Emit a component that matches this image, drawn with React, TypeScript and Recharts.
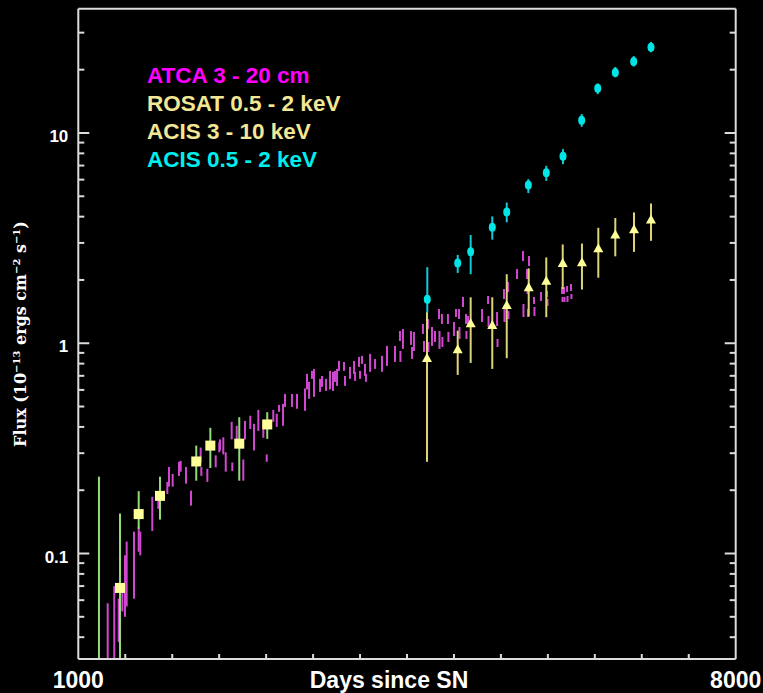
import React from 'react';
import { ComposedChart, Scatter, XAxis, YAxis, ErrorBar } from 'recharts';

// ---------- tick definitions ----------
const xTicks = [1000, 1500, 2000, 2500, 3000, 3500, 4000, 4500, 5000, 5500, 6000, 6500, 7000, 7500, 8000];
const xLabelTicks = [1000, 8000];
const yTicks = [0.04, 0.05, 0.06, 0.07, 0.08, 0.09, 0.1, 0.2, 0.3, 0.4, 0.5, 0.6, 0.7, 0.8, 0.9, 1, 2, 3, 4, 5, 6, 7, 8, 9, 10, 20, 30];
const yMajor = [0.1, 1, 10];

// ---------- ATCA 3 - 20 cm (radio, error bars only) ----------
const atcaDays = [1313, 1383, 1430, 1469, 1497, 1515, 1593, 1643, 1660, 1788, 1852, 1948, 1966, 2005, 2072, 2090, 2147, 2200, 2303, 2310, 2374, 2463, 2501, 2509, 2544, 2570, 2633, 2640, 2687, 2757, 2775, 2831, 2871, 2917, 2970, 3006, 3076, 3113, 3137, 3180, 3201, 3275, 3329, 3414, 3435, 3457, 3488, 3510, 3574, 3595, 3638, 3680, 3712, 3733, 3755, 3776, 3829, 3840, 3893, 3936, 3947, 3989, 4000, 4021, 4053, 4064, 4107, 4160, 4234, 4287, 4372, 4425, 4430, 4457, 4543, 4553, 4574, 4670, 4681, 4723, 4728, 4766, 4798, 4841, 4846, 4872, 4877, 4936, 4941, 5000, 5022, 5054, 5059, 5096, 5128, 5133, 5150, 5299, 5363, 5368, 5459, 5464, 5533, 5538, 5575, 5580, 5671, 5735, 5740, 5778, 5783, 5788, 5799, 5852, 5857, 5927, 5991, 5996, 6151, 6156, 6172, 6177, 6204, 6209, 6246, 6251];
const atcaLow = [0.0316, 0.0316, 0.038, 0.053, 0.050, 0.056, 0.061, 0.102, 0.098, 0.128, 0.163, 0.192, 0.208, 0.208, 0.234, 0.245, 0.215, 0.169, 0.271, 0.234, 0.219, 0.257, 0.303, 0.309, 0.296, 0.245, 0.349, 0.247, 0.338, 0.222, 0.349, 0.391, 0.309, 0.383, 0.355, 0.273, 0.423, 0.400, 0.472, 0.405, 0.498, 0.498, 0.488, 0.477, 0.603, 0.544, 0.677, 0.556, 0.587, 0.620, 0.593, 0.603, 0.593, 0.655, 0.627, 0.739, 0.739, 0.627, 0.677, 0.715, 0.662, 0.772, 0.677, 0.798, 0.699, 0.655, 0.731, 0.755, 0.731, 0.780, 0.815, 1.025, 0.815, 0.940, 0.982, 0.842, 0.919, 1.107, 0.909, 1.169, 0.909, 0.971, 1.014, 1.304, 0.940, 1.235, 0.960, 1.235, 1.014, 1.083, 1.333, 1.304, 1.048, 1.487, 1.235, 1.048, 1.208, 1.262, 1.537, 1.195, 1.208, 0.960, 1.623, 1.262, 1.753, 1.304, 2.021, 2.460, 1.333, 2.021, 1.715, 1.333, 2.329, 1.537, 1.348, 1.588, 1.660, 1.504, 1.715, 1.571, 1.715, 1.571, 1.753, 1.571, 1.772, 1.623];
const atcaHigh = [0.058, 0.070, 0.061, 0.070, 0.098, 0.114, 0.127, 0.134, 0.127, 0.186, 0.197, 0.219, 0.258, 0.239, 0.273, 0.276, 0.258, 0.199, 0.319, 0.258, 0.253, 0.293, 0.338, 0.349, 0.357, 0.303, 0.423, 0.271, 0.405, 0.280, 0.427, 0.452, 0.414, 0.482, 0.432, 0.296, 0.482, 0.462, 0.509, 0.515, 0.574, 0.574, 0.574, 0.609, 0.715, 0.655, 0.739, 0.755, 0.677, 0.699, 0.677, 0.739, 0.731, 0.739, 0.755, 0.824, 0.815, 0.699, 0.772, 0.824, 0.731, 0.861, 0.739, 0.871, 0.798, 0.715, 0.890, 0.842, 0.871, 0.971, 0.971, 1.144, 0.919, 1.169, 1.144, 0.960, 1.132, 1.235, 1.025, 1.304, 1.014, 1.195, 1.144, 1.455, 1.144, 1.378, 1.071, 1.378, 1.132, 1.262, 1.455, 1.455, 1.195, 1.660, 1.378, 1.144, 1.348, 1.455, 1.678, 1.348, 1.408, 1.048, 1.811, 1.487, 1.955, 1.424, 2.254, 2.745, 1.537, 2.254, 1.872, 1.455, 2.598, 1.660, 1.487, 1.753, 1.772, 1.623, 1.851, 1.660, 1.851, 1.660, 1.872, 1.678, 1.913, 1.715];

// ---------- ROSAT 0.5 - 2 keV (first point lies below the plotted range) ----------
const rosatDays = [1220, 1444, 1643, 1870, 2256, 2406, 2714, 3012];
const rosatFlux = [0.02, 0.0686, 0.154, 0.188, 0.274, 0.326, 0.333, 0.411];
const rosatLow = [0.0316, 0.0316, 0.131, 0.145, 0.222, 0.255, 0.222, 0.351];
const rosatHigh = [0.232, 0.155, 0.198, 0.232, 0.326, 0.396, 0.445, 0.470];

// ---------- ACIS 3 - 10 keV ----------
const hardDays = [4713, 5040, 5178, 5408, 5562, 5796, 5983, 6158, 6363, 6537, 6718, 6917, 7098];
const hardFlux = [0.851, 0.936, 1.245, 1.22, 1.52, 1.845, 1.98, 2.41, 2.43, 2.83, 3.29, 3.48, 3.88];
const hardLow = [0.273, 0.707, 0.806, 0.755, 0.849, 1.34, 1.33, 1.81, 1.80, 2.05, 2.59, 2.72, 3.07];
const hardHigh = [1.41, 1.148, 1.654, 1.654, 2.13, 2.27, 2.56, 2.95, 2.98, 3.54, 3.94, 4.19, 4.62];

// ---------- ACIS 0.5 - 2 keV ----------
const softDays = [4716, 5040, 5178, 5408, 5562, 5792, 5983, 6161, 6360, 6531, 6718, 6914, 7098];
const softFlux = [1.62, 2.41, 2.72, 3.56, 4.21, 5.65, 6.47, 7.76, 11.5, 16.3, 19.4, 21.9, 25.6];
const softLow = [1.40, 2.16, 2.13, 3.11, 3.76, 5.18, 5.92, 7.11, 10.7, 15.3, 18.4, 20.7, 24.2];
const softHigh = [2.30, 2.63, 3.27, 4.01, 4.67, 6.03, 6.98, 8.38, 12.3, 17.2, 20.6, 23.2, 27.1];

// ---------- build tables ----------
const build = (days: number[], flux: number[], lo: number[], hi: number[]) =>
  days.map((d, i) => ({ x: d, y: flux[i], err: [flux[i] - lo[i], hi[i] - flux[i]] }));

const atcaFlux = atcaLow.map((l, i) => Math.sqrt(l * atcaHigh[i]));
const atcaData = build(atcaDays, atcaFlux, atcaLow, atcaHigh);
const rosatData = build(rosatDays, rosatFlux, rosatLow, rosatHigh);
const hardData = build(hardDays, hardFlux, hardLow, hardHigh);
const softData = build(softDays, softFlux, softLow, softHigh);

// ---------- styling ----------
const AX = '#dcdcdc';
const SANS = '"Liberation Sans", Arial, Helvetica, sans-serif';
const SERIF = '"DejaVu Serif", "Liberation Serif", serif';
const Y_DOMAIN = [0.0315, 39];
const X_DOMAIN = [1000, 8000];

const inRange = (v: number) => v >= Y_DOMAIN[0] && v <= Y_DOMAIN[1];

const BottomTick = (props: any) => {
  const { x, y, payload } = props;
  const v = payload.value;
  const isEnd = v === X_DOMAIN[0] || v === X_DOMAIN[1];
  return (
    <g>
      {!isEnd && <line x1={x} x2={x} y1={y} y2={y - 5} stroke={AX} strokeWidth={2} />}
      {xLabelTicks.includes(v) && (
        <text x={x} y={y + 29} textAnchor="middle" fill="#ffffff" fontFamily={SANS} fontWeight="bold" fontSize={23}>
          {v}
        </text>
      )}
    </g>
  );
};

const TopTick = (props: any) => {
  const { x, y, payload } = props;
  const v = payload.value;
  const isEnd = v === X_DOMAIN[0] || v === X_DOMAIN[1];
  return <g>{!isEnd && <line x1={x} x2={x} y1={y} y2={y + 5} stroke={AX} strokeWidth={2} />}</g>;
};

const LeftTick = (props: any) => {
  const { x, y, payload } = props;
  const v = payload.value;
  const major = yMajor.includes(v);
  return (
    <g>
      <line x1={x} x2={x + (major ? 11 : 6)} y1={y} y2={y} stroke={AX} strokeWidth={2} />
      {major && (
        <text x={x - 10} y={y + 9} textAnchor="end" fill="#ffffff" fontFamily={SANS} fontWeight="bold" fontSize={17}>
          {v}
        </text>
      )}
    </g>
  );
};

const RightTick = (props: any) => {
  const { x, y, payload } = props;
  const v = payload.value;
  const major = yMajor.includes(v);
  return <line x1={x} x2={x - (major ? 11 : 6)} y1={y} y2={y} stroke={AX} strokeWidth={2} />;
};

const NoShape = () => <g />;
const SquareShape = (p: any) =>
  inRange(p.payload.y) ? <rect x={p.cx - 5} y={p.cy - 5} width={10} height={10} fill="#ffff99" /> : <g />;
const TriangleShape = (p: any) => (
  <polygon points={`${p.cx},${p.cy - 5} ${p.cx + 5},${p.cy + 4} ${p.cx - 5},${p.cy + 4}`} fill="#ffff99" />
);
const CircleShape = (p: any) => <ellipse cx={p.cx} cy={p.cy} rx={3.5} ry={4.5} fill="#00e5e5" />;

export default function App() {
  return (
    <div style={{ position: 'absolute', left: 0, top: 0, width: 763, height: 693, background: '#000000', overflow: 'hidden' }}>
      <ComposedChart width={763} height={693} margin={{ top: 7.7, right: 26.3, bottom: 4, left: 18.3 }}>
        <XAxis
          xAxisId={0}
          dataKey="x"
          type="number"
          domain={X_DOMAIN}
          ticks={xTicks}
          interval={0}
          allowDataOverflow
          height={30}
          tickSize={0}
          tickMargin={0}
          tickLine={false}
          axisLine={{ stroke: AX, strokeWidth: 2 }}
          tick={<BottomTick />}
        />
        <XAxis
          xAxisId="top"
          orientation="top"
          type="number"
          domain={X_DOMAIN}
          ticks={xTicks}
          interval={0}
          allowDataOverflow
          height={1}
          tickSize={0}
          tickMargin={0}
          tickLine={false}
          axisLine={{ stroke: AX, strokeWidth: 2 }}
          tick={<TopTick />}
        />
        <YAxis
          yAxisId={0}
          dataKey="y"
          type="number"
          scale="log"
          domain={Y_DOMAIN}
          ticks={yTicks}
          interval={0}
          allowDataOverflow
          width={60}
          tickSize={0}
          tickMargin={0}
          tickLine={false}
          axisLine={{ stroke: AX, strokeWidth: 2 }}
          tick={<LeftTick />}
        />
        <YAxis
          yAxisId="right"
          orientation="right"
          type="number"
          scale="log"
          domain={Y_DOMAIN}
          ticks={yTicks}
          interval={0}
          allowDataOverflow
          width={1}
          tickSize={0}
          tickMargin={0}
          tickLine={false}
          axisLine={{ stroke: AX, strokeWidth: 2 }}
          tick={<RightTick />}
        />
        <Scatter name="ATCA 3 - 20 cm" data={atcaData} shape={NoShape} isAnimationActive={false}>
          <ErrorBar dataKey="err" direction="y" width={0} stroke="#d048d0" strokeWidth={2} isAnimationActive={false} />
        </Scatter>
        <Scatter name="ROSAT 0.5 - 2 keV" data={rosatData} shape={SquareShape} isAnimationActive={false}>
          <ErrorBar dataKey="err" direction="y" width={0} stroke="#92dc78" strokeWidth={2} isAnimationActive={false} />
        </Scatter>
        <Scatter name="ACIS 3 - 10 keV" data={hardData} shape={TriangleShape} isAnimationActive={false}>
          <ErrorBar dataKey="err" direction="y" width={0} stroke="#ddd479" strokeWidth={2} isAnimationActive={false} />
        </Scatter>
        <Scatter name="ACIS 0.5 - 2 keV" data={softData} shape={CircleShape} isAnimationActive={false}>
          <ErrorBar dataKey="err" direction="y" width={0} stroke="#14c8d8" strokeWidth={2} isAnimationActive={false} />
        </Scatter>
      </ComposedChart>
      <svg width={763} height={693} style={{ position: 'absolute', left: 0, top: 0, pointerEvents: 'none' }}>
        <g fontFamily={SANS} fontWeight="bold" fontSize={22.5}>
          <text x={147} y={83} fill="#ff00ff">ATCA 3 - 20 cm</text>
          <text x={147} y={111} fill="#f2e795">ROSAT 0.5 - 2 keV</text>
          <text x={147} y={139} fill="#f2e795">ACIS 3 - 10 keV</text>
          <text x={147} y={167} fill="#00eeee">ACIS 0.5 - 2 keV</text>
        </g>
        <text x={389} y={688} textAnchor="middle" fill="#ffffff" fontFamily={SANS} fontWeight="bold" fontSize={23}>
          Days since SN
        </text>
        <g transform="translate(26,334) rotate(-90)">
          <text x={0} y={0} textAnchor="middle" fill="#ffffff" fontFamily={SERIF} fontWeight="bold" fontSize={16}>
            Flux (10
            <tspan dy={-6} fontSize={10}>−13</tspan>
            <tspan dy={6}> ergs cm</tspan>
            <tspan dy={-6} fontSize={10}>−2</tspan>
            <tspan dy={6}> s</tspan>
            <tspan dy={-6} fontSize={10}>−1</tspan>
            <tspan dy={6}>)</tspan>
          </text>
        </g>
      </svg>
    </div>
  );
}
